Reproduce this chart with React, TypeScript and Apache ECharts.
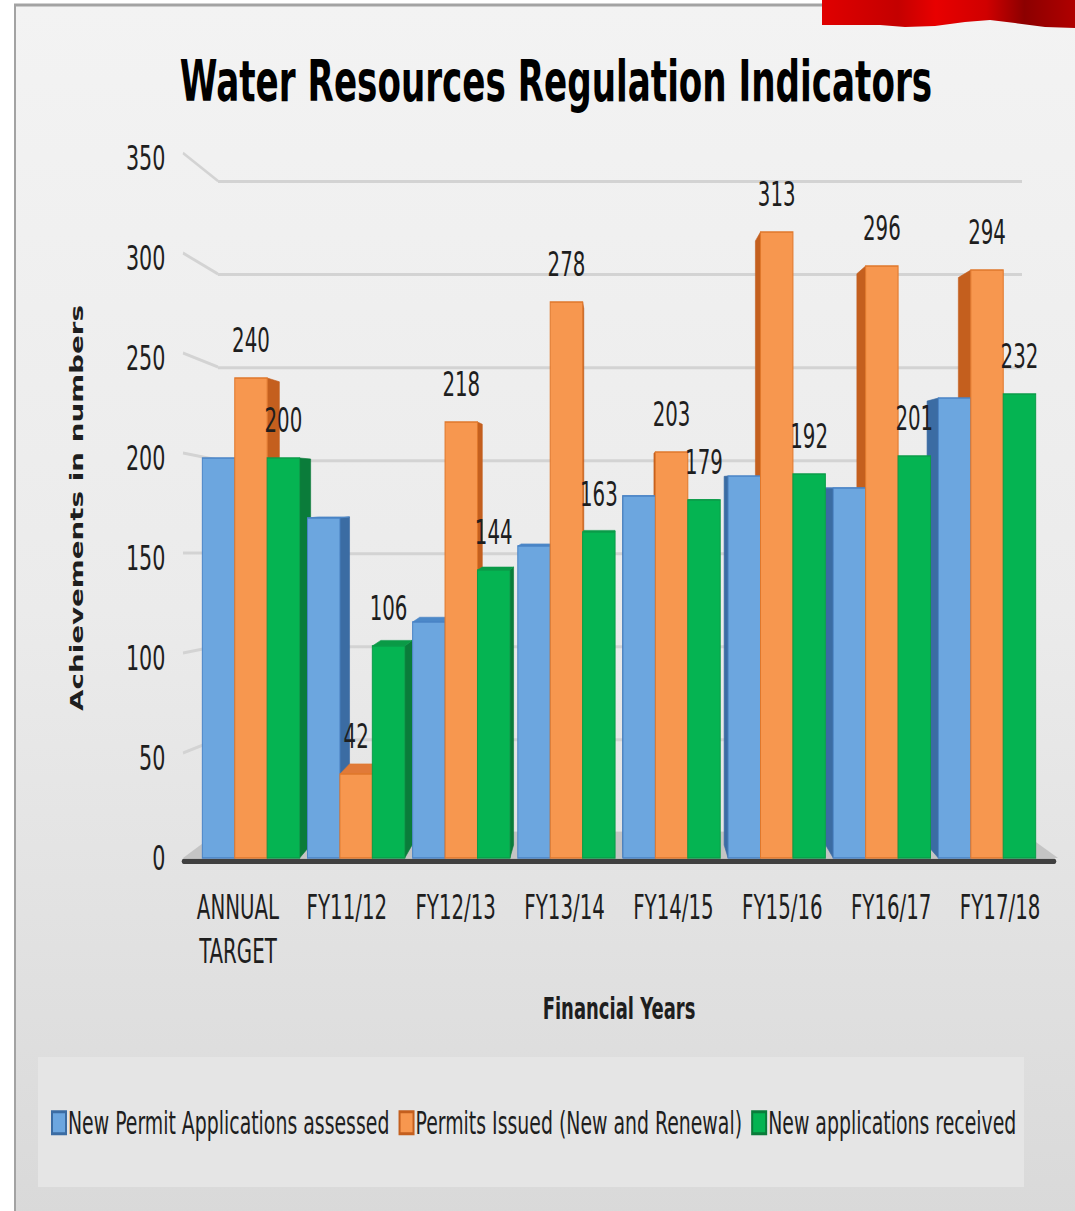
import React, { useEffect, useRef } from 'react';
import * as echarts from 'echarts';

// ---------- data ----------
const CATEGORIES = ['ANNUAL\nTARGET', 'FY11/12', 'FY12/13', 'FY13/14', 'FY14/15', 'FY15/16', 'FY16/17', 'FY17/18'];
const SERIES_NAMES = ['New Permit Applications assessed', 'Permits Issued (New and Renewal)', 'New applications received'];
const ASSESSED = [200, 170, 118, 156, 181, 191, 185, 230];
const ISSUED = [240, 42, 218, 278, 203, 313, 296, 294];
const RECEIVED = [200, 106, 144, 163, 179, 192, 201, 232];
const SHOW_LABELS = [false, true, true];
const GRID_TICKS = [50, 100, 150, 200, 250, 300, 350];
const Y_MAX = 350;

// ---------- layout (page px; the chart is stretched vertically like the slide) ----------
const PAGE_W = 1075;
const PAGE_H = 1211;
const CHART_H = 807;
const S = PAGE_H / CHART_H;
const py = (y: number) => y / S;

const NARROW = "'Liberation Sans Narrow', 'DejaVu Sans Condensed', sans-serif";
const WIDE = "'DejaVu Sans', Verdana, sans-serif";

const FRONT = { left: 198.4, right: PAGE_W - 1039.6, top: py(158), bottom: CHART_H - py(858) };
const BACK = { left: 218, right: PAGE_W - 1022, top: py(181), bottom: CHART_H - py(832) };
const LABELS = { left: 183.5, right: PAGE_W - 1054.5, top: py(158), bottom: CHART_H - py(861) };

const X_LABEL_SIZE = 22;
const X_LINE_H = py(44);
const X_NAME_SIZE = 20;

const FACES = [
  { front: '#6ca6df', side: '#3b6ca3', top: '#4c88c8', stroke: '#4a84c6' },
  { front: '#f7974f', side: '#c45f1e', top: '#e17a38', stroke: '#e0782c' },
  { front: '#05b452', side: '#0a7c3a', top: '#0a9a46', stroke: '#0b9c49' },
];
const SERIES_VALUES = [ASSESSED, ISSUED, RECEIVED];

function makeBarRender(s: number) {
  return (params: any, api: any) => {
    const i = api.value(0);
    const v = api.value(1);
    const basePt = api.coord([i, 0]);
    const topPt = api.coord([i, v]);
    const band = api.size([1, 0])[0];
    const groupW = band * 0.925;
    const barW = groupW / 3;
    const x0 = basePt[0] - groupW / 2 + s * barW;
    const x1 = x0 + barW;
    const top = topPt[1];
    const base = basePt[1];
    const c3 = api.coord([3, 0])[0];
    const c4 = api.coord([4, 0])[0];
    const vx = c3 + (c4 - c3) * 0.46;
    const vy = api.coord([0, 186])[1];
    const K = 0.965;
    const bx = (x: number) => vx + (x - vx) * K;
    const by = (y: number) => vy + (y - vy) * K;
    const f = FACES[s];
    const children: any[] = [];
    if (x1 < vx) {
      children.push({
        type: 'polygon', z2: 1,
        shape: { points: [[x1, top], [bx(x1), by(top)], [bx(x1), by(base)], [x1, base]] },
        style: { fill: f.side, stroke: f.side, lineWidth: 0.5 },
      });
    } else if (x0 > vx) {
      children.push({
        type: 'polygon', z2: 1,
        shape: { points: [[x0, top], [bx(x0), by(top)], [bx(x0), by(base)], [x0, base]] },
        style: { fill: f.side, stroke: f.side, lineWidth: 0.5 },
      });
    }
    if (top > vy) {
      children.push({
        type: 'polygon', z2: 2,
        shape: { points: [[x0, top], [x1, top], [bx(x1), by(top)], [bx(x0), by(top)]] },
        style: { fill: f.top, stroke: f.stroke, lineWidth: 0.5 },
      });
    }
    children.push({
      type: 'rect', z2: 3,
      shape: { x: x0, y: top, width: barW, height: base - top },
      style: { fill: f.front, stroke: f.stroke, lineWidth: 1 },
    });
    if (SHOW_LABELS[s]) {
      children.push({
        type: 'text', z2: 10,
        x: (x0 + x1) / 2,
        y: top - py(37),
        style: {
          text: String(v), align: 'center', verticalAlign: 'middle',
          fontSize: 22, fontFamily: NARROW, fill: '#1e1e1e',
        },
      });
    }
    return { type: 'group', children };
  };
}

function connectorRender(params: any, api: any) {
  const v = api.value(1);
  const back = api.coord([0, v]);
  const frontH = CHART_H - FRONT.top - FRONT.bottom;
  const frontY = FRONT.top + (1 - v / Y_MAX) * frontH - py(5);
  return {
    type: 'line',
    shape: { x1: 183, y1: frontY, x2: back[0], y2: back[1] },
    style: { stroke: '#d3d3d3', lineWidth: 2 },
  };
}

export default function App() {
  const ref = useRef<HTMLDivElement>(null);
  useEffect(() => {
    document.body.style.margin = '0';
    const chart = echarts.init(ref.current!, null, { renderer: 'svg' });
    const option: any = {
      animation: false,
      backgroundColor: '#ffffff',
      title: {
        text: 'Water Resources Regulation Indicators',
        left: 551, top: 30, textAlign: 'center', padding: 5,
        textStyle: { fontSize: 38, fontWeight: 'bold', fontFamily: NARROW, color: '#000' },
      },
      graphic: [
        {
          type: 'rect', z: -10,
          shape: { x: 15, y: py(5), width: PAGE_W - 15 + 2, height: CHART_H },
          style: {
            fill: { type: 'linear', x: 0, y: 0, x2: 0, y2: 1,
              colorStops: [{ offset: 0, color: '#f3f3f3' }, { offset: 0.5, color: '#ebebeb' }, { offset: 1, color: '#d9d9d9' }] },
            stroke: '#a3a3a3', lineWidth: 2,
          },
        },
        {
          type: 'rect', z: -5,
          shape: { x: 38, y: py(1057), width: 986, height: py(1187) - py(1057) },
          style: { fill: '#e5e5e5' },
        },
        {
          type: 'polygon', z: 1,
          shape: { points: [[218, py(832)], [1022, py(832)], [1058, py(858)], [183, py(858)]] },
          style: { fill: '#c4c4c4' },
        },
        {
          type: 'polygon', z: 5,
          shape: { points: [
            [822, 0], [PAGE_W, 0], [PAGE_W, py(28)], [1045, py(27)], [1015, py(23)], [990, py(20)],
            [965, py(22)], [935, py(26)], [905, py(27)], [880, py(25)], [850, py(25)], [822, py(25)],
          ] },
          style: {
            fill: { type: 'linear', x: 0, y: 0, x2: 1, y2: 0,
              colorStops: [
                { offset: 0, color: '#e00000' }, { offset: 0.3, color: '#c40000' }, { offset: 0.45, color: '#e80000' },
                { offset: 0.65, color: '#d00000' }, { offset: 0.8, color: '#8c0000' }, { offset: 1, color: '#b00000' },
              ] },
          },
        },
      ],
      legend: {
        data: SERIES_NAMES,
        left: 46, top: py(1116) - 11,
        icon: 'rect', itemWidth: 14, itemHeight: py(22), itemGap: 9,
        textStyle: { fontSize: 21, fontFamily: NARROW, color: '#1e1e1e', padding: [0, 0, 0, -3] },
      },
      grid: [
        { left: FRONT.left, right: FRONT.right, top: FRONT.top, bottom: FRONT.bottom },
        { left: BACK.left, right: BACK.right, top: BACK.top, bottom: BACK.bottom },
        { left: LABELS.left, right: LABELS.right, top: LABELS.top, bottom: LABELS.bottom },
      ],
      xAxis: [
        { gridIndex: 0, type: 'category', data: CATEGORIES, show: false },
        { gridIndex: 1, type: 'value', min: 0, max: 1, show: false },
        {
          gridIndex: 2, type: 'category', data: CATEGORIES,
          axisLine: { show: true, lineStyle: { color: '#404040', width: 3.5 } },
          axisTick: { show: false },
          axisLabel: {
            fontSize: X_LABEL_SIZE, fontFamily: NARROW, color: '#1e1e1e',
            margin: py(908) - py(861) - X_LINE_H / 2, lineHeight: X_LINE_H, interval: 0,
          },
          name: 'Financial Years', nameLocation: 'middle',
          nameGap: py(1008) - py(861) - X_NAME_SIZE / 2,
          nameTextStyle: { fontSize: X_NAME_SIZE, fontWeight: 'bold', fontFamily: NARROW, color: '#1e1e1e' },
        },
      ],
      yAxis: [
        {
          gridIndex: 0, type: 'value', min: 0, max: Y_MAX, interval: 50,
          axisLine: { show: false }, axisTick: { show: false }, splitLine: { show: false },
          axisLabel: { fontSize: 23, fontFamily: NARROW, color: '#1e1e1e', margin: 33 },
          name: 'Achievements in numbers', nameLocation: 'middle', nameGap: 112, nameRotate: 90,
          nameTextStyle: { fontSize: 18.5, fontWeight: 'bold', fontFamily: WIDE, color: '#1e1e1e' },
        },
        {
          gridIndex: 1, type: 'value', min: 0, max: Y_MAX, interval: 50,
          axisLine: { show: false }, axisTick: { show: false }, axisLabel: { show: false },
          splitLine: { show: true, lineStyle: { color: '#d3d3d3', width: 2 } },
        },
        { gridIndex: 2, type: 'value', show: false },
      ],
      series: [
        {
          type: 'custom', name: 'gridConnectors', xAxisIndex: 1, yAxisIndex: 1, silent: true,
          data: GRID_TICKS.map((v) => [0, v]), renderItem: connectorRender, z: 0,
        },
        ...SERIES_VALUES.map((vals, s) => ({
          type: 'custom', name: SERIES_NAMES[s], xAxisIndex: 0, yAxisIndex: 0,
          data: vals.map((v, i) => [i, v]),
          encode: { x: 0, y: 1 },
          itemStyle: { color: FACES[s].front, borderColor: FACES[s].side, borderWidth: 1 },
          renderItem: makeBarRender(s),
        })),
      ],
    };
    chart.setOption(option);
    return () => chart.dispose();
  }, []);
  return (
    <div style={{ width: PAGE_W, height: PAGE_H, overflow: 'hidden', position: 'relative' }}>
      <div
        ref={ref}
        style={{
          position: 'absolute', left: 0, top: 0,
          width: PAGE_W, height: CHART_H, transform: `scaleY(${S})`, transformOrigin: '0 0',
        }}
      />
    </div>
  );
}
